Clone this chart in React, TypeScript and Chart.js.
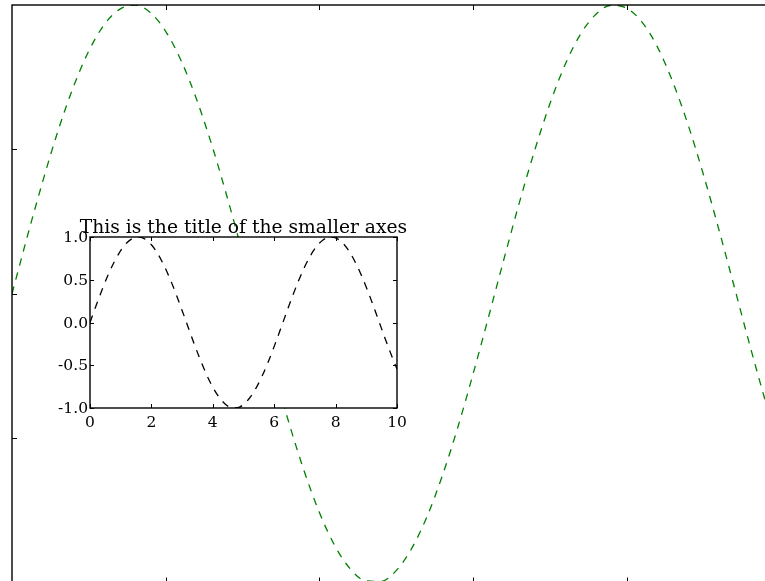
import { useEffect, useRef } from "react";
import { Chart, registerables } from "chart.js";

Chart.register(...registerables);

// Sampled curve, x from 0 to 10 in steps of 0.2
const xValues = [
  0, 0.2, 0.4, 0.6, 0.8, 1, 1.2, 1.4, 1.6, 1.8, 2, 2.2, 2.4, 2.6, 2.8, 3, 3.2,
  3.4, 3.6, 3.8, 4, 4.2, 4.4, 4.6, 4.8, 5, 5.2, 5.4, 5.6, 5.8, 6, 6.2, 6.4, 6.6,
  6.8, 7, 7.2, 7.4, 7.6, 7.8, 8, 8.2, 8.4, 8.6, 8.8, 9, 9.2, 9.4, 9.6, 9.8, 10,
];
const waveValues = [
  0.0, 0.199, 0.389, 0.565, 0.717, 0.841, 0.932, 0.985, 1.0, 0.974, 0.909,
  0.808, 0.675, 0.516, 0.335, 0.141, -0.058, -0.256, -0.443, -0.612, -0.757,
  -0.872, -0.952, -0.994, -0.996, -0.959, -0.883, -0.773, -0.631, -0.465,
  -0.279, -0.083, 0.117, 0.312, 0.494, 0.657, 0.794, 0.899, 0.968, 0.999, 0.989,
  0.941, 0.855, 0.734, 0.585, 0.412, 0.223, 0.025, -0.175, -0.366, -0.544,
];

// Main axes ticks (unlabelled)
const mainXTicks = [2, 4, 6, 8];
const mainYTicks = [-0.5, 0, 0.5];

// Inset axes ticks and labels
const insetXTicks = [0, 2, 4, 6, 8, 10];
const insetXLabels = ["0", "2", "4", "6", "8", "10"];
const insetYTicks = [-1, -0.5, 0, 0.5, 1];
const insetYLabels = ["-1.0", "-0.5", "0.0", "0.5", "1.0"];
const insetTitle = "This is the title of the smaller axes";

const SERIF = "'DejaVu Serif', serif";

type FrameOpts = {
  fillArea: boolean;
  xTicks: number[];
  yTicks: number[];
  tickLen: number;
  xLabels?: string[];
  yLabels?: string[];
  title?: string;
};

// Draws a boxed frame with inward ticks, optional labels and a title
function framePlugin(opts: FrameOpts) {
  return {
    id: "boxFrame",
    beforeDatasetsDraw(chart: any) {
      if (!opts.fillArea) return;
      const { ctx, chartArea: a } = chart;
      ctx.save();
      ctx.fillStyle = "#ffffff";
      ctx.fillRect(a.left, a.top, a.right - a.left, a.bottom - a.top);
      ctx.restore();
    },
    afterDatasetsDraw(chart: any) {
      const { ctx, chartArea: a } = chart;
      const xs = chart.scales.x;
      const ys = chart.scales.y;
      const L = opts.tickLen;
      ctx.save();
      ctx.strokeStyle = "#000000";
      ctx.lineWidth = 1;
      ctx.beginPath();
      opts.xTicks.forEach((v) => {
        const px = Math.round(xs.getPixelForValue(v)) + 0.5;
        ctx.moveTo(px, a.top);
        ctx.lineTo(px, a.top + L);
        ctx.moveTo(px, a.bottom);
        ctx.lineTo(px, a.bottom - L);
      });
      opts.yTicks.forEach((v) => {
        const py = Math.round(ys.getPixelForValue(v)) + 0.5;
        ctx.moveTo(a.left, py);
        ctx.lineTo(a.left + L, py);
        ctx.moveTo(a.right, py);
        ctx.lineTo(a.right - L, py);
      });
      ctx.stroke();

      ctx.lineWidth = 1.4;
      ctx.strokeRect(a.left, a.top, a.right - a.left, a.bottom - a.top);

      ctx.fillStyle = "#000000";
      if (opts.yLabels) {
        ctx.font = `15.5px ${SERIF}`;
        ctx.textAlign = "right";
        ctx.textBaseline = "middle";
        opts.yTicks.forEach((v, i) => {
          ctx.fillText(opts.yLabels![i], a.left - 2, ys.getPixelForValue(v) + 1);
        });
      }
      if (opts.xLabels) {
        ctx.font = `15.5px ${SERIF}`;
        ctx.textAlign = "center";
        ctx.textBaseline = "alphabetic";
        opts.xTicks.forEach((v, i) => {
          ctx.fillText(opts.xLabels![i], xs.getPixelForValue(v), a.bottom + 19);
        });
      }
      if (opts.title) {
        ctx.font = `18.7px ${SERIF}`;
        ctx.textAlign = "center";
        ctx.textBaseline = "alphabetic";
        ctx.fillText(opts.title, (a.left + a.right) / 2, a.top - 4.5);
      }
      ctx.restore();
    },
  };
}

function makeConfig(
  color: string,
  padding: { left: number; top: number; right: number; bottom: number },
  frame: FrameOpts
): any {
  return {
    type: "line",
    data: {
      datasets: [
        {
          data: xValues.map((x, i) => ({ x, y: waveValues[i] })),
          borderColor: color,
          borderWidth: 1.3,
          borderDash: [7.5, 7],
          pointRadius: 0,
          fill: false,
          cubicInterpolationMode: "monotone",
        },
      ],
    },
    options: {
      responsive: false,
      animation: false,
      devicePixelRatio: 1,
      layout: { padding },
      plugins: {
        legend: { display: false },
        tooltip: { enabled: false },
        title: { display: false },
      },
      events: [],
      scales: {
        x: { type: "linear", min: 0, max: 10, display: false },
        y: { type: "linear", min: -1, max: 1, display: false },
      },
    },
    plugins: [framePlugin(frame)],
  };
}

export default function App() {
  const mainRef = useRef<HTMLCanvasElement | null>(null);
  const insetRef = useRef<HTMLCanvasElement | null>(null);

  useEffect(() => {
    const main = new Chart(
      mainRef.current!,
      makeConfig(
        "#008000",
        { left: 12, top: 5, right: 19.7, bottom: 17.5 },
        { fillArea: false, xTicks: mainXTicks, yTicks: mainYTicks, tickLen: 5 }
      )
    );
    const inset = new Chart(
      insetRef.current!,
      makeConfig(
        "#000000",
        { left: 50, top: 37, right: 33, bottom: 32 },
        {
          fillArea: true,
          xTicks: insetXTicks,
          yTicks: insetYTicks,
          tickLen: 4,
          xLabels: insetXLabels,
          yLabels: insetYLabels,
          title: insetTitle,
        }
      )
    );
    return () => {
      main.destroy();
      inset.destroy();
    };
  }, []);

  return (
    <div
      style={{
        position: "fixed",
        left: 0,
        top: 0,
        width: 765,
        height: 581,
        overflow: "hidden",
        background: "#ffffff",
      }}
    >
      <canvas
        ref={mainRef}
        width={800}
        height={600}
        style={{ position: "absolute", left: 0, top: 0, width: 800, height: 600 }}
      />
      <canvas
        ref={insetRef}
        width={390}
        height={240}
        style={{ position: "absolute", left: 40, top: 200, width: 390, height: 240 }}
      />
    </div>
  );
}
